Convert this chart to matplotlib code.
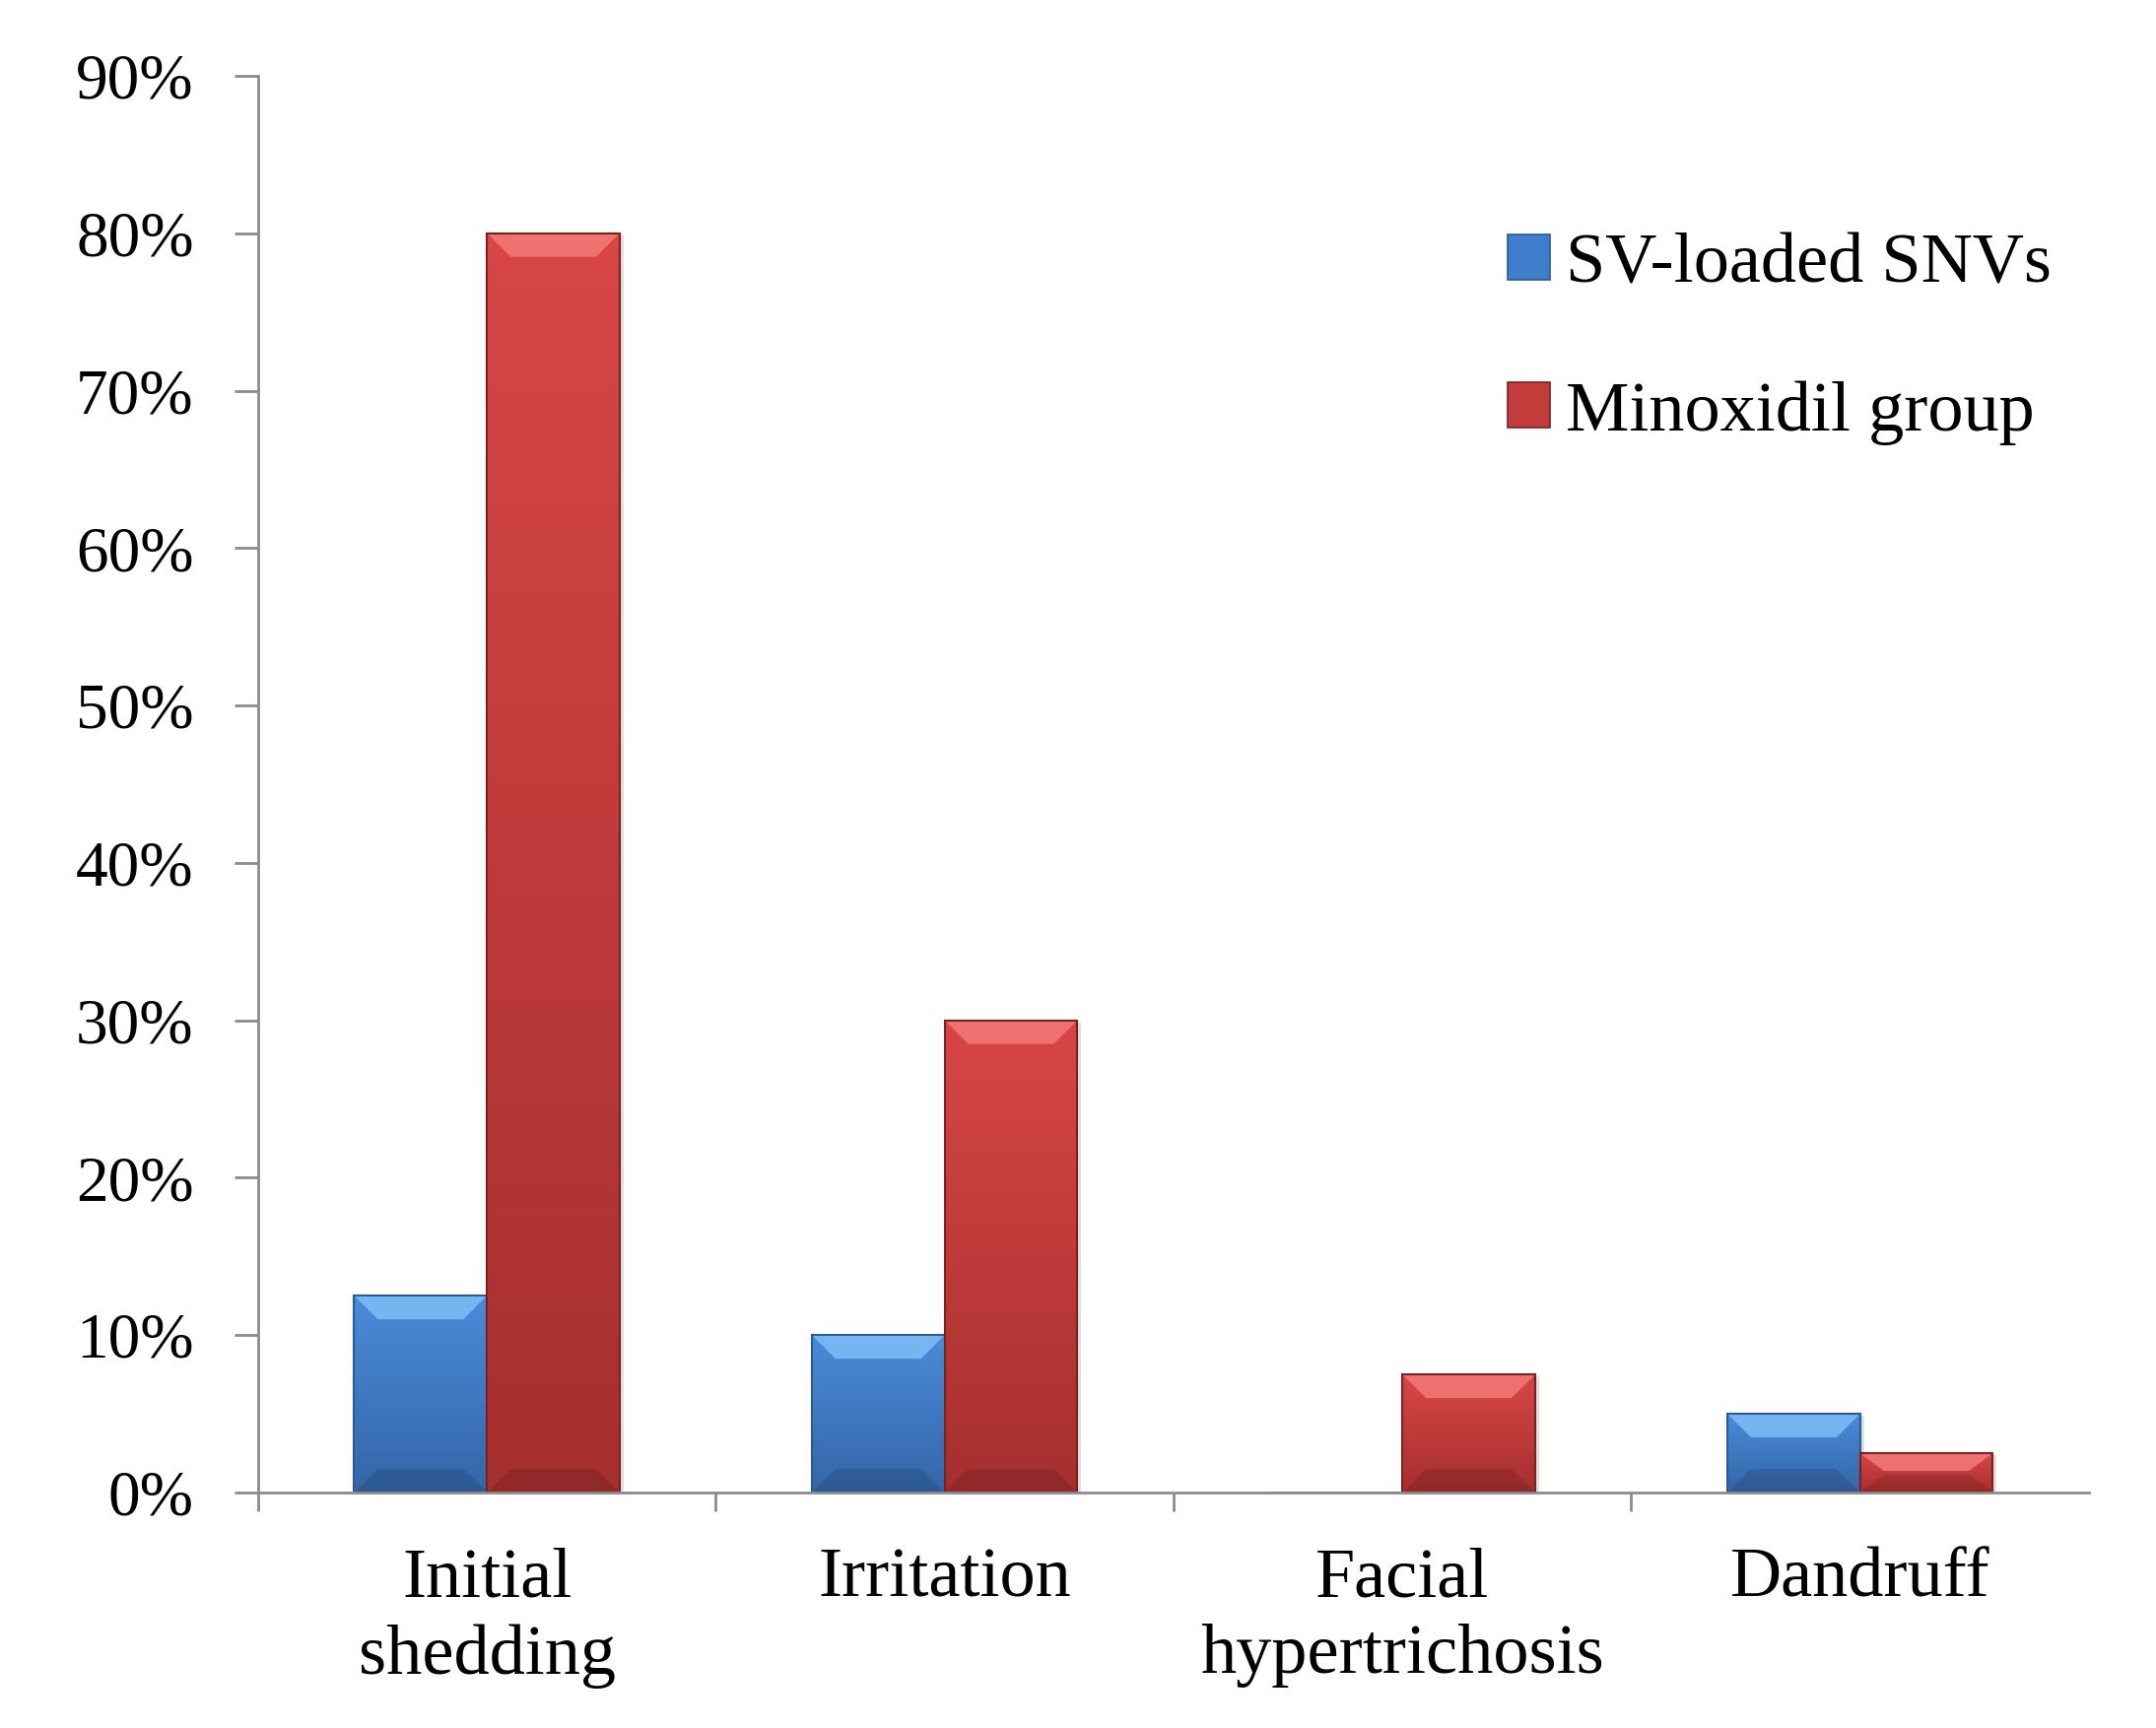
import matplotlib
matplotlib.use('Agg')
import matplotlib.pyplot as plt
import numpy as np
from matplotlib.patches import Polygon, Patch
from matplotlib.colors import LinearSegmentedColormap

categories = ['Initial\nshedding', 'Irritation', 'Facial\nhypertrichosis', 'Dandruff']
sv_values = [0.125, 0.10, 0.0, 0.05]
minox_values = [0.80, 0.30, 0.075, 0.025]
series_names = ['SV-loaded SNVs', 'Minoxidil group']
yticks = [0.0, 0.1, 0.2, 0.3, 0.4, 0.5, 0.6, 0.7, 0.8, 0.9]
ytick_labels = ['0%', '10%', '20%', '30%', '40%', '50%', '60%', '70%', '80%', '90%']

plt.rcParams['font.family'] = ['Liberation Serif', 'DejaVu Serif']
FS = 47
FS2 = 52

blue = dict(top='#4a8bd8', bottom='#3466a8', edge='#2c5a92', hi='#7fbef8', face='#3f7ecb')
red = dict(top='#d84646', bottom='#a62f2f', edge='#7a2222', hi='#f47a7a', face='#c43c3c')

fig = plt.figure(figsize=(21.88, 17.54), dpi=100)
ax = fig.add_axes([0.1197, 0.1363, 0.8492, 0.8198])

x = np.arange(len(categories))
w = 0.29
ylim = (0, 0.9)
xlim = (-0.5, len(categories) - 0.5)
ax.set_xlim(*xlim)
ax.set_ylim(*ylim)

ax_w_px = 0.8492 * 2188
ax_h_px = 0.8198 * 1754
px_x = (xlim[1] - xlim[0]) / ax_w_px
px_y = (ylim[1] - ylim[0]) / ax_h_px


def draw_series(xpos, vals, c, z):
    bars = ax.bar(xpos, vals, w, color=c['face'], edgecolor=c['edge'], linewidth=1.2, zorder=z)
    cmap = LinearSegmentedColormap.from_list('g', [c['bottom'], c['top']])
    grad = np.linspace(0, 1, 256).reshape(-1, 1)
    for p in bars.patches:
        bx, by, bw, bh = p.get_x(), p.get_y(), p.get_width(), p.get_height()
        if bh <= 0:
            continue
        sh = plt.Rectangle((bx + 4 * px_x, by), bw, bh - 2 * px_y, color='#000000', alpha=0.12,
                           zorder=z - 0.5, linewidth=0)
        ax.add_patch(sh)
        im = ax.imshow(grad, extent=[bx, bx + bw, by, by + bh], origin='lower', cmap=cmap,
                       aspect='auto', zorder=z + 0.1)
        im.set_clip_path(p)
        dx = 24 * px_x
        dy = min(24 * px_y, bh * 0.45)
        top = by + bh
        bev = Polygon([(bx, top), (bx + bw, top), (bx + bw - dx, top - dy), (bx + dx, top - dy)],
                      closed=True, facecolor=c['hi'], edgecolor='none', alpha=0.85, zorder=z + 0.2)
        ax.add_patch(bev)
        shade = Polygon([(bx, by), (bx + bw, by), (bx + bw - dx, by + dy), (bx + dx, by + dy)],
                        closed=True, facecolor='#000000', edgecolor='none', alpha=0.12, zorder=z + 0.2)
        ax.add_patch(shade)
        edge = plt.Rectangle((bx, by), bw, bh, fill=False, edgecolor=c['edge'], linewidth=1.5,
                             zorder=z + 0.3)
        ax.add_patch(edge)
    return bars


draw_series(x - w / 2, sv_values, blue, 3)
draw_series(x + w / 2, minox_values, red, 3)
ax.set_xlim(*xlim)
ax.set_ylim(*ylim)

for s in ['top', 'right']:
    ax.spines[s].set_visible(False)
for s in ['left', 'bottom']:
    ax.spines[s].set_color('#8c8c8c')
    ax.spines[s].set_linewidth(2)
    ax.spines[s].set_zorder(5)

ax.set_yticks(yticks)
ax.set_yticklabels(ytick_labels, fontsize=FS)
ax.tick_params(axis='y', direction='out', length=17, width=2, color='#8c8c8c', pad=30)

ax.set_xticks(x)
ax.set_xticklabels(categories, fontsize=FS2, linespacing=1.25)
ax.set_xticks(np.arange(len(categories)) - 0.5, minor=True)
ax.tick_params(axis='x', which='major', length=0, pad=40)
ax.tick_params(axis='x', which='minor', direction='out', length=14, width=2, color='#8c8c8c')

handles = [Patch(facecolor=blue['face'], edgecolor=blue['edge'], linewidth=1.2),
           Patch(facecolor=red['face'], edgecolor=red['edge'], linewidth=1.2)]
ax.legend(handles, series_names, loc='upper left', bbox_to_anchor=(0.6825, 0.889), frameon=False,
          fontsize=FS2, handlelength=0.6, handleheight=0.6, handletextpad=0.22,
          labelspacing=1.17, borderaxespad=0, borderpad=0)

fig.savefig('out.png', dpi=100, facecolor='white')
